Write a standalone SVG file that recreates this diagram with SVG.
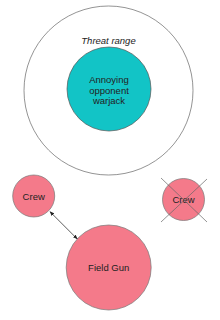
<svg xmlns="http://www.w3.org/2000/svg" width="220" height="320" viewBox="0 0 220 320">
<defs>
<style>
text{font-family:"Liberation Sans",Arial,sans-serif;font-size:9.5px;fill:#222;text-anchor:middle}
.pink{fill:#F47A8A;stroke:#777;stroke-width:0.7}
.teal{fill:#12C4C6;stroke:#555;stroke-width:0.7}
.line{stroke:#333;stroke-width:0.8;fill:none}
.x{stroke:#666;stroke-width:0.7}
</style>
<marker id="ah" viewBox="0 0 10 10" refX="9" refY="5" markerWidth="6" markerHeight="6" orient="auto-start-reverse">
<path d="M0,1 L10,5 L0,9 z" fill="#222"/>
</marker>
</defs>
<rect width="220" height="320" fill="#fff"/>
<g id="threat-range">
<circle cx="108.5" cy="90.5" r="84.5" fill="none" stroke="#666" stroke-width="0.7"/>
<text x="108.5" y="44" font-style="italic">Threat range</text>
</g>
<g id="warjack">
<circle class="teal" cx="109" cy="89" r="42"/>
<text x="109" y="82.5">Annoying</text>
<text x="109" y="93.5">opponent</text>
<text x="109" y="104">warjack</text>
</g>
<g id="crew-left">
<circle class="pink" cx="33.7" cy="196" r="21"/>
<text x="33.7" y="199.5">Crew</text>
</g>
<g id="crew-right">
<circle class="pink" cx="183.5" cy="199.5" r="21"/>
<text x="183.5" y="203">Crew</text>
<line class="x" x1="161" y1="178" x2="207" y2="222"/>
<line class="x" x1="207" y1="179" x2="161" y2="222"/>
</g>
<g id="field-gun">
<circle class="pink" cx="108.7" cy="267.5" r="42.5"/>
<text x="108.7" y="271">Field Gun</text>
</g>
<g id="connectors">
<line class="line" x1="50" y1="211.7" x2="77.3" y2="239" marker-start="url(#ah)" marker-end="url(#ah)"/>
</g>
</svg>
